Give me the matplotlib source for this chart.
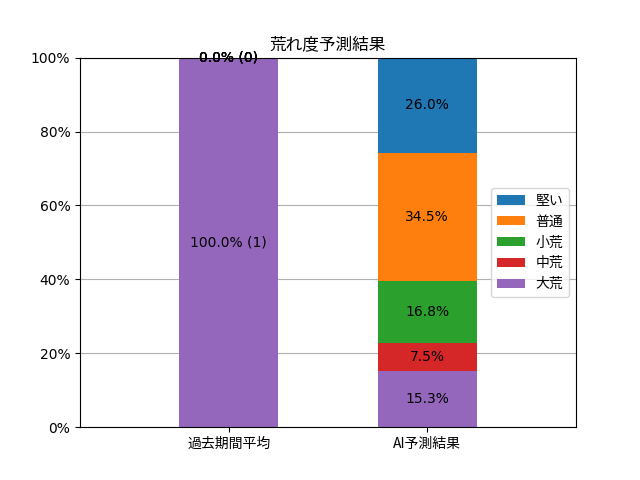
import numpy as np
import matplotlib
matplotlib.use("Agg")
import matplotlib.pyplot as plt
from matplotlib.ticker import PercentFormatter

plt.rcParams["font.family"] = ["DejaVu Sans", "Noto Sans CJK JP"]
jp = ["Noto Sans CJK JP", "DejaVu Sans"]

categories = ["過去期間平均", "AI予測結果"]
levels = ["大荒", "中荒", "小荒", "普通", "堅い"]
colors = ["#9467bd", "#d62728", "#2ca02c", "#ff7f0e", "#1f77b4"]

past_pct = [100.0, 0.0, 0.0, 0.0, 0.0]
past_count = [1, 0, 0, 0, 0]
ai_pct = [15.3, 7.5, 16.8, 34.5, 26.0]

fig, ax = plt.subplots(figsize=(6.4, 4.8), dpi=100)
x = np.arange(len(categories))
bottom = np.zeros(len(categories))
for i, lv in enumerate(levels):
    vals = np.array([past_pct[i], ai_pct[i]])
    ax.bar(x, vals, 0.5, bottom=bottom, color=colors[i], label=lv)
    # labels
    ax.text(x[0], bottom[0] + vals[0] / 2, f"{past_pct[i]:.1f}% ({past_count[i]})",
            ha="center", va="center", fontsize=10)
    ax.text(x[1], bottom[1] + vals[1] / 2, f"{ai_pct[i]:.1f}%",
            ha="center", va="center", fontsize=10)
    bottom += vals

ax.set_xticks(x)
ax.set_xticklabels(categories, family=jp)
ax.set_xlim(-0.75, 1.75)
ax.set_ylim(0, 100)
ax.yaxis.set_major_formatter(PercentFormatter(decimals=0))
ax.set_axisbelow(True)
ax.grid(axis="y", color="#b0b0b0")
ax.set_title("荒れ度予測結果", family=jp)
handles, labels = ax.get_legend_handles_labels()
ax.legend(handles[::-1], labels[::-1], loc="center right", prop={"family": jp})

fig.savefig("out.png")
